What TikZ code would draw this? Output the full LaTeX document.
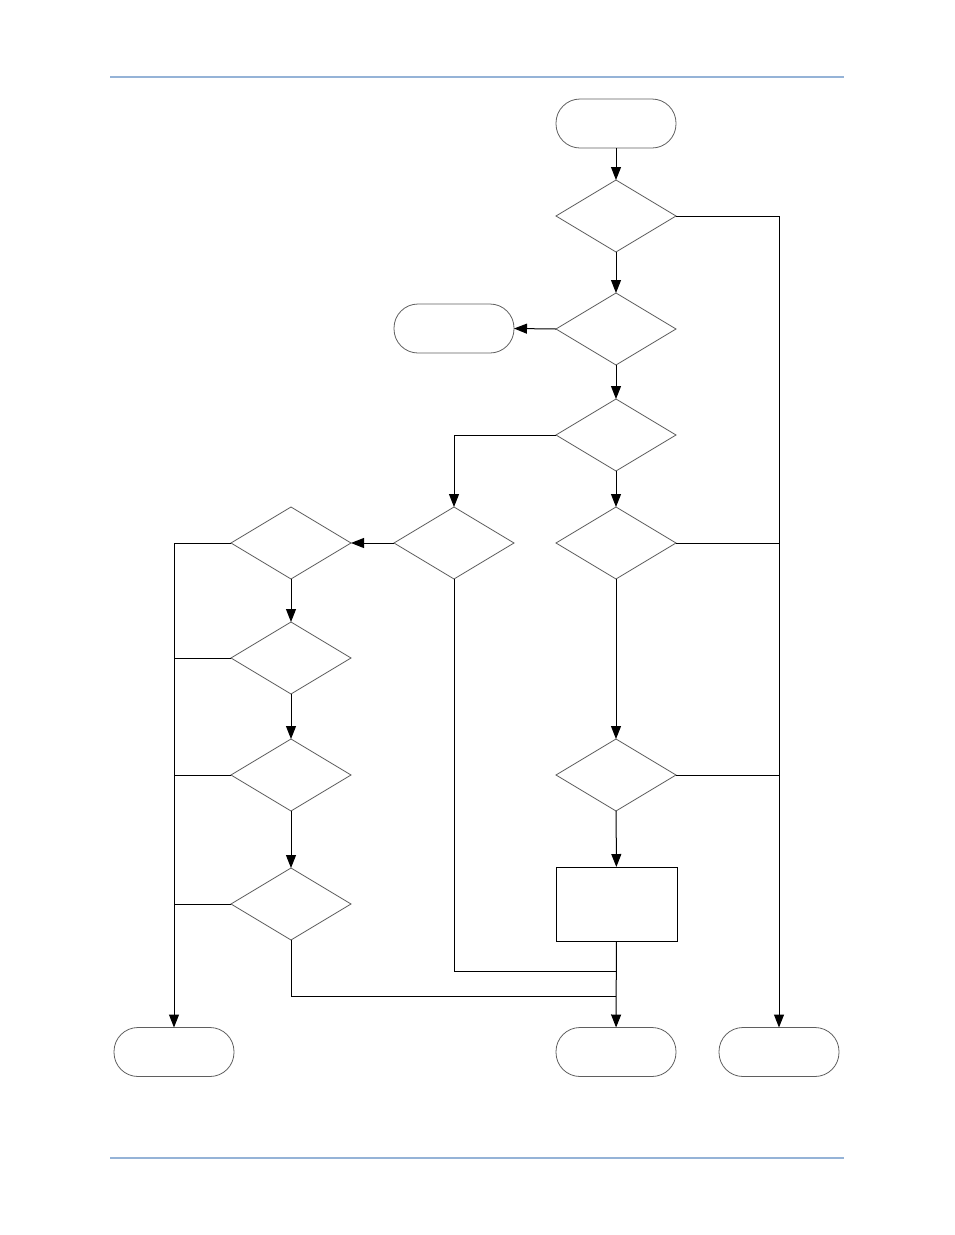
\documentclass[tikz,border=0pt]{standalone}
\usetikzlibrary{shapes.geometric,arrows.meta}
\definecolor{hdr}{RGB}{149,179,215}
\definecolor{outl}{RGB}{95,95,95}
\begin{document}
\begin{tikzpicture}[x=1pt,y=-1pt,
  dec/.style={diamond,draw=outl,line width=0.8pt,minimum width=120pt,minimum height=72pt,inner sep=0pt,outer sep=0pt},
  term/.style={rectangle,rounded corners=24pt,draw=outl,line width=0.8pt,minimum width=120pt,minimum height=49pt,inner sep=0pt,outer sep=0pt},
  proc/.style={rectangle,draw=black,line width=1pt,minimum width=121pt,minimum height=74pt,inner sep=0pt,outer sep=0pt},
  conn/.style={draw=black,line width=1pt},
  arr/.style={conn,-{Triangle[length=13pt,width=10pt]}}]
\useasboundingbox (0,0) rectangle (954,1235);
\draw[hdr,line width=2.2pt] (110,77) -- (844,77);
\draw[hdr,line width=2.2pt] (110,1158) -- (844,1158);
% nodes
\node[term] (st) at (616,123.5) {};
\node[dec] (d1) at (616,216) {};
\node[dec] (d2) at (616,329) {};
\node[term] (tl) at (454,328.5) {};
\node[dec] (d3) at (616,435) {};
\node[dec] (d4) at (616,543) {};
\node[dec] (d5) at (454,543) {};
\node[dec] (d6) at (291,543) {};
\node[dec] (d7) at (291,658) {};
\node[dec] (d8) at (291,775) {};
\node[dec] (d9) at (291,904) {};
\node[dec] (d10) at (616,775) {};
\node[proc] (pr) at (616.5,904) {};
\node[term] (lt) at (174,1052) {};
\node[term] (mt) at (616,1052) {};
\node[term] (rt) at (779,1052) {};
\coordinate (j1) at (616,971);
\coordinate (j2) at (616,996);
% connectors
\draw[arr] (st) -- (d1);
\draw[arr] (d1.east) -| (rt.north);
\draw[arr] (d1) -- (d2);
\draw[arr] (d2.west) -- (tl.east);
\draw[arr] (d2) -- (d3);
\draw[arr] (d3.west) -| (d5.north);
\draw[arr] (d3) -- (d4);
\draw[conn] (d4.east) -- (d4.east -| rt.north);
\draw[arr] (d4) -- (d10);
\draw[conn] (d10.east) -- (d10.east -| rt.north);
\draw[arr] (d10) -- (pr);
\draw[arr] (pr) -- (mt);
\draw[arr] (d5.west) -- (d6.east);
\draw[conn] (d5.south) |- (j1);
\draw[arr] (d6.west) -| (lt.north);
\draw[arr] (d6) -- (d7);
\draw[conn] (d7.west) -- (d7.west -| lt.north);
\draw[arr] (d7) -- (d8);
\draw[conn] (d8.west) -- (d8.west -| lt.north);
\draw[arr] (d8) -- (d9);
\draw[conn] (d9.west) -- (d9.west -| lt.north);
\draw[conn] (d9.south) |- (j2);
\end{tikzpicture}
\end{document}
